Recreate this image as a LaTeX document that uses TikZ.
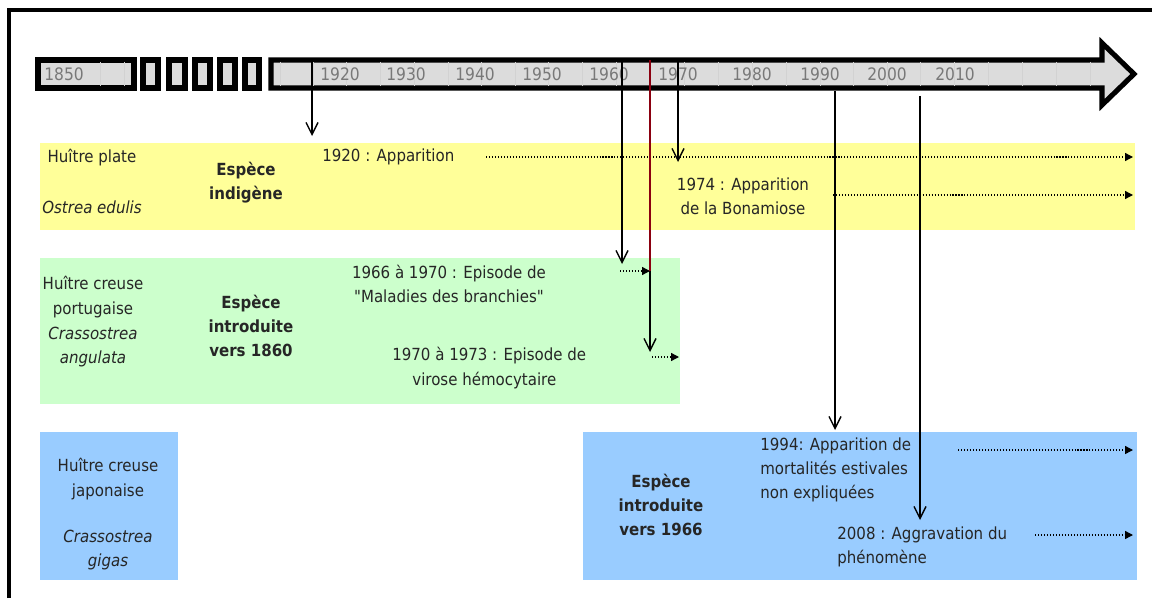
\documentclass[tikz,border=0pt]{standalone}
\usepackage{fontspec}
\setmainfont{DejaVu Sans Condensed}
\usetikzlibrary{arrows.meta}

\definecolor{bandyellow}{HTML}{FFFF99}
\definecolor{bandgreen}{HTML}{CCFFCC}
\definecolor{bandblue}{HTML}{99CCFF}
\definecolor{barfill}{HTML}{DCDCDC}
\definecolor{yeargray}{HTML}{787878}
\definecolor{darkred}{HTML}{8B0010}

\begin{document}
\begin{tikzpicture}[x=0.02cm,y=-0.02cm,
        every node/.style={font=\fontsize{9.5}{13.8}\selectfont, inner sep=0pt, align=center, text=black!85},
        gras/.style={font=\fontsize{9.5}{13.8}\selectfont\bfseries},
        latin/.style={font=\fontsize{9.5}{13.8}\selectfont\itshape},
        annee/.style={anchor=west, text=yeargray, font=\fontsize{9.8}{11}\selectfont},
        barbox/.style={draw=black, fill=barfill, line width=2.9pt},
        vline/.style={thick, -{Straight Barb[length=2.4mm,width=2.4mm]}},
        dotarrow/.style={dash pattern=on 0.6pt off 1.1pt, line width=0.75pt, -{Triangle[length=1.6mm,width=1.6mm]}}]
    \useasboundingbox (0,0) rectangle (1152,598);

    % cadre
    \draw[line width=1.8pt] (9,598) -- (9,10) -- (1152,10);

    % frise
    \draw[barbox] (38,60) rectangle (134,88);
    \draw[barbox] (143,60) rectangle (158,88);
    \draw[barbox] (169,60) rectangle (185,88);
    \draw[barbox] (195,60) rectangle (210,88);
    \draw[barbox] (220,60) rectangle (235,88);
    \draw[barbox] (245,60) rectangle (259,88);
    \draw[barbox] (271,60) -- (1102,60) -- (1102,43) -- (1134,74) -- (1102,105) -- (1102,88) -- (271,88) -- cycle;
    \foreach \gx in {100,124}
        \draw[gray!35, very thin] (\gx,62) -- (\gx,86);
    \foreach \gx in {280,313,346,380,414,448,481,515,548,582,616,650,684,718,752,786,820,853,887,920,954,988,1022,1056,1090}
        \draw[gray!35, very thin] (\gx,62) -- (\gx,86);
    \node[annee] (a1850) at (44,74) {1850};
    \foreach \yr/\px in {1920/320,1930/386,1940/455,1950/522,1960/589,1970/658,1980/732,1990/800,2000/867,2010/935}
        \node[annee] (a\yr) at (\px,74) {\yr};

    % bandes
    \fill[bandyellow] (40,143) rectangle (1135,230);
    \fill[bandgreen] (40,258) rectangle (680,404);
    \fill[bandblue] (40,432) rectangle (178,580);
    \fill[bandblue] (583,432) rectangle (1137,580);

    % huitre plate
    \node (plate) at (92,158) {Huître plate};
    \node[latin] (edulis) at (92,207) {Ostrea edulis};
    \node[gras] (indigene) at (246,183) {Espèce\\indigène};
    \node[anchor=west] (app1920) at (322,157) {1920 : Apparition};
    \node (bonamia) at (743,196) {1974 : Apparition\\de la Bonamiose};

    % huitre portugaise
    \node (portugaise) at (93,297) {Huître creuse\\portugaise};
    \node[latin] (angulata) at (93,347) {Crassostrea\\angulata};
    \node[gras] (intro1860) at (251,326) {Espèce\\introduite\\vers 1860};
    \node (branchies) at (449,284) {1966 à 1970 : Episode de\\\textquotedbl Maladies des branchies\textquotedbl};
    \node[anchor=west, align=left] (virose) at (392,368) {1970 à 1973 : Episode de\\\hspace{1.2em}virose hémocytaire};

    % huitre japonaise
    \node (japonaise) at (108,479) {Huître creuse\\japonaise};
    \node[latin] (gigas) at (108,550) {Crassostrea\\gigas};
    \node[gras] (intro1966) at (661,505) {Espèce\\introduite\\vers 1966};
    \node[anchor=west, align=left] (estivales) at (760,470) {1994: Apparition de\\mortalités estivales\\non expliquées};
    \node[anchor=west, align=left] (aggravation) at (837,547) {2008 : Aggravation du\\phénomène};

    % points des fleches
    \coordinate (d1920) at (312,60);   \coordinate (f1920) at (312,136);
    \coordinate (d1966) at (622,60);   \coordinate (f1966) at (622,264);
    \coordinate (d1968) at (650,60);   \coordinate (m1968) at (650,271);  \coordinate (f1968) at (650,352);
    \coordinate (d1974) at (678,60);   \coordinate (f1974) at (678,162);
    \coordinate (d1994) at (835,91);   \coordinate (f1994) at (835,430);
    \coordinate (d2008) at (920,96);   \coordinate (f2008) at (920,520);
    \coordinate (p1) at (486,157);     \coordinate (q1) at (1133,157);
    \coordinate (p2) at (833,195);     \coordinate (q2) at (1133,195);
    \coordinate (p3) at (620,271);
    \coordinate (p4) at (652,357);     \coordinate (q4) at (679,357);
    \coordinate (p5) at (958,450);     \coordinate (q5) at (1133,450);
    \coordinate (p6) at (1035,535);    \coordinate (q6) at (1133,535);

    % pointilles
    \draw[dotarrow] (p1) -- (q1);
    \draw[dotarrow] (p2) -- (q2);
    \draw[dotarrow] (p3) -- (m1968);
    \draw[dotarrow] (p4) -- (q4);
    \draw[dotarrow] (p5) -- (q5);
    \draw[dotarrow] (p6) -- (q6);

    % fleches depuis la frise
    \draw[vline] (d1920) -- (f1920);
    \draw[vline] (d1966) -- (f1966);
    \draw[thick, darkred] (d1968) -- (m1968);
    \draw[vline] (m1968) -- (f1968);
    \draw[vline] (d1974) -- (f1974);
    \draw[vline] (d1994) -- (f1994);
    \draw[vline] (d2008) -- (f2008);
\end{tikzpicture}
\end{document}
